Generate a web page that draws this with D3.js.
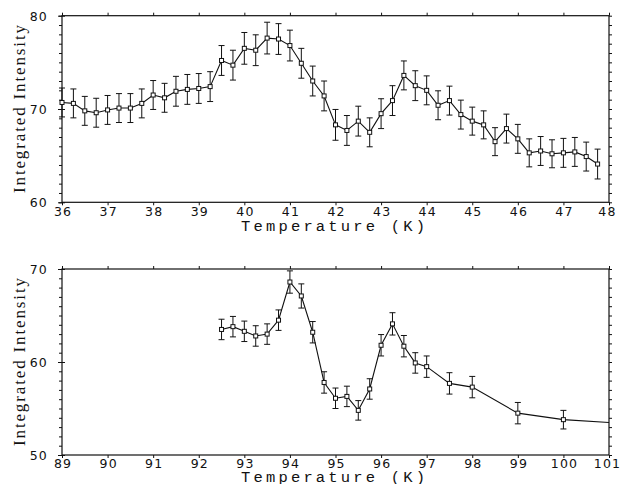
<!DOCTYPE html>
<html>
<head>
<meta charset="utf-8">
<script src="https://cdn.jsdelivr.net/npm/d3@7"></script>
<style>
  html, body { margin: 0; padding: 0; background: #fff; }
  svg { display: block; }
  .tick text { font-family: "DejaVu Sans", sans-serif; font-size: 12.5px; letter-spacing: 1.2px; fill: #111; }
  .domain { stroke: none; }
  .tick line { stroke: #111; stroke-width: 1; }
</style>
</head>
<body>
<svg id="chart" width="621" height="484"></svg>
<script>
// ---------- data ----------
const topTemp = [36, 36.25, 36.5, 36.75, 37, 37.25, 37.5, 37.75, 38, 38.25, 38.5, 38.75,
  39, 39.25, 39.5, 39.75, 40, 40.25, 40.5, 40.75, 41, 41.25, 41.5, 41.75,
  42, 42.25, 42.5, 42.75, 43, 43.25, 43.5, 43.75, 44, 44.25, 44.5, 44.75,
  45, 45.25, 45.5, 45.75, 46, 46.25, 46.5, 46.75, 47, 47.25, 47.5, 47.75];
const topIntensity = [70.7, 70.6, 69.8, 69.6, 69.9, 70.1, 70.1, 70.6, 71.5, 71.2, 71.9, 72.1,
  72.2, 72.4, 75.2, 74.7, 76.5, 76.3, 77.6, 77.5, 76.8, 74.9, 73.0, 71.4,
  68.3, 67.7, 68.7, 67.5, 69.5, 70.9, 73.6, 72.5, 72.0, 70.4, 70.9, 69.4,
  68.7, 68.3, 66.5, 67.9, 66.8, 65.3, 65.5, 65.2, 65.3, 65.4, 64.9, 64.1];
const topError = [1.55, 1.55, 1.55, 1.55, 1.55, 1.55, 1.55, 1.55, 1.55, 1.55, 1.6, 1.6,
  1.6, 1.6, 1.6, 1.6, 1.7, 1.65, 1.7, 1.65, 1.65, 1.6, 1.6, 1.6,
  1.65, 1.6, 1.6, 1.55, 1.6, 1.6, 1.55, 1.6, 1.55, 1.55, 1.55, 1.55,
  1.5, 1.5, 1.5, 1.55, 1.55, 1.5, 1.55, 1.5, 1.55, 1.55, 1.55, 1.6];

const botTemp = [92.5, 92.75, 93, 93.25, 93.5, 93.75, 94, 94.25, 94.5, 94.75, 95, 95.25,
  95.5, 95.75, 96, 96.25, 96.5, 96.75, 97, 97.5, 98, 99, 100];
const botIntensity = [63.5, 63.8, 63.3, 62.8, 63.0, 64.5, 68.6, 67.1, 63.2, 57.8, 56.1, 56.3,
  54.8, 57.1, 61.8, 64.1, 61.7, 59.9, 59.5, 57.7, 57.3, 54.5, 53.8];
const botError = [1.1, 1.1, 1.1, 1.1, 1.1, 1.1, 1.2, 1.3, 1.15, 1.15, 1.1, 1.1,
  1.05, 1.1, 1.15, 1.2, 1.15, 1.1, 1.15, 1.15, 1.15, 1.15, 1.0];
// line continues to the right edge without a marker
const botTailTemp = [101];
const botTailIntensity = [53.5];

const topXTicks = [36, 37, 38, 39, 40, 41, 42, 43, 44, 45, 46, 47, 48];
const topYTicks = [60, 70, 80];
const botXTicks = [89, 90, 91, 92, 93, 94, 95, 96, 97, 98, 99, 100, 101];
const botYTicks = [50, 60, 70];

const xTitle = "Temperature (K)";
const yTitle = "Integrated Intensity";

// ---------- drawing ----------
const svg = d3.select("#chart");
const ink = "#111";

function panel(cfg) {
  const x = d3.scaleLinear().domain(cfg.xDomain).range([62, 609]);
  const y = d3.scaleLinear().domain(cfg.yDomain).range([cfg.bottom, cfg.top]);
  const g = svg.append("g");
  const minorY = d3.range(cfg.yDomain[0], cfg.yDomain[1] + 0.5, 1);

  // frame
  g.append("rect").attr("x", x.range()[0]).attr("y", cfg.top)
    .attr("width", x.range()[1] - x.range()[0]).attr("height", cfg.bottom - cfg.top)
    .attr("fill", "none").attr("stroke", ink).attr("stroke-width", 1.2);

  // bottom axis with labels
  const xb = g.append("g").attr("transform", `translate(0,${cfg.bottom})`)
    .call(d3.axisBottom(x).tickValues(cfg.xTicks).tickSize(3).tickPadding(cfg.xPad).tickFormat(d3.format("d")));
  xb.selectAll(".tick text").attr("dy", "0.71em")
    .attr("dx", (d, i, n) => i === n.length - 1 ? -2 : 0.6);
  // top axis ticks
  g.append("g").attr("transform", `translate(0,${cfg.top})`)
    .call(d3.axisTop(x).tickValues(cfg.xTicks).tickSize(3).tickFormat(""));
  // left minor ticks
  g.append("g").attr("transform", `translate(${x.range()[0]},0)`)
    .call(d3.axisLeft(y).tickValues(minorY).tickSize(3).tickFormat(""));
  // left labeled major ticks (crossing)
  const yl = g.append("g").attr("transform", `translate(${x.range()[0]},0)`)
    .call(d3.axisLeft(y).tickValues(cfg.yTicks).tickSize(4).tickPadding(10).tickFormat(d3.format("d")));
  yl.selectAll(".tick text").attr("dy", "0.36em");
  g.append("g").attr("transform", `translate(${x.range()[0]},0)`)
    .call(d3.axisRight(y).tickValues(cfg.yTicks).tickSize(3).tickFormat(""));
  // right minor ticks
  g.append("g").attr("transform", `translate(${x.range()[1]},0)`)
    .call(d3.axisRight(y).tickValues(minorY).tickSize(3).tickFormat(""));

  // data
  const pts = cfg.t.map((t, i) => ({ t, v: cfg.v[i], e: cfg.e[i] }));
  const linePts = pts.concat((cfg.tailT || []).map((t, i) => ({ t, v: cfg.tailV[i], e: null })));

  g.append("path").datum(linePts)
    .attr("d", d3.line().x(d => x(d.t)).y(d => y(d.v)))
    .attr("fill", "none").attr("stroke", ink).attr("stroke-width", 1.1);

  const eb = g.append("g").attr("stroke", ink).attr("stroke-width", 1);
  eb.selectAll("line.v").data(pts).join("line").attr("class", "v")
    .attr("x1", d => x(d.t)).attr("x2", d => x(d.t))
    .attr("y1", d => y(d.v - d.e)).attr("y2", d => y(d.v + d.e));
  eb.selectAll("line.t").data(pts).join("line").attr("class", "t")
    .attr("x1", d => x(d.t) - 3).attr("x2", d => x(d.t) + 3)
    .attr("y1", d => y(d.v + d.e)).attr("y2", d => y(d.v + d.e));
  eb.selectAll("line.b").data(pts).join("line").attr("class", "b")
    .attr("x1", d => x(d.t) - 3).attr("x2", d => x(d.t) + 3)
    .attr("y1", d => y(d.v - d.e)).attr("y2", d => y(d.v - d.e));

  g.selectAll("rect.m").data(pts).join("rect").attr("class", "m")
    .attr("x", d => x(d.t) - 2).attr("y", d => y(d.v) - 2)
    .attr("width", 4).attr("height", 4)
    .attr("fill", "#fff").attr("stroke", ink).attr("stroke-width", 1);

  // titles
  g.append("text").text(xTitle)
    .attr("x", 333).attr("y", cfg.titleY)
    .attr("text-anchor", "middle")
    .attr("font-family", "'Liberation Mono', 'Courier New', monospace")
    .attr("font-size", 15.5)
    .attr("textLength", 184).attr("lengthAdjust", "spacing")
    .attr("fill", ink);
  const cy = (cfg.top + cfg.bottom) / 2;
  g.append("text").text(yTitle)
    .attr("transform", `translate(25,${cy}) rotate(-90)`)
    .attr("text-anchor", "middle")
    .attr("font-family", "'Liberation Serif', 'Times New Roman', serif")
    .attr("font-size", 17)
    .attr("textLength", 168).attr("lengthAdjust", "spacing")
    .attr("fill", ink);
}

panel({ xDomain: [36, 48], yDomain: [60, 80], top: 15.7, bottom: 202.3, titleY: 231, xPad: 2,
  xTicks: topXTicks, yTicks: topYTicks, t: topTemp, v: topIntensity, e: topError });
panel({ xDomain: [89, 101], yDomain: [50, 70], top: 269, bottom: 455, titleY: 482, xPad: 1,
  xTicks: botXTicks, yTicks: botYTicks, t: botTemp, v: botIntensity, e: botError,
  tailT: botTailTemp, tailV: botTailIntensity });
</script>
</body>
</html>
